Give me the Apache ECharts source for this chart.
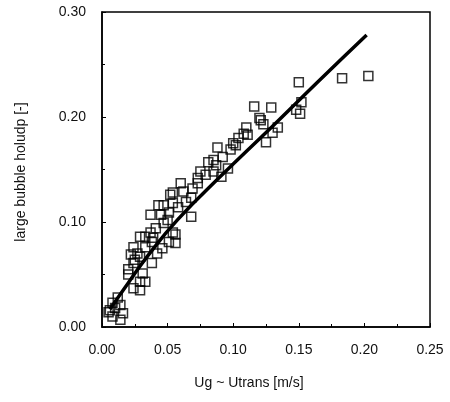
<!DOCTYPE html>
<html>
<head>
<meta charset="utf-8">
<script src="https://cdn.jsdelivr.net/npm/echarts@6/dist/echarts.min.js"></script>
<style>html,body{margin:0;padding:0;background:#fff;}#c{width:450px;height:402px;}</style>
</head>
<body>
<div id="c"></div>
<script>
// measured data: [Ug - Utrans (m/s), large bubble holdup (-)]
const measured = [
  [0.203,0.239],[0.183,0.237],[0.150,0.233],[0.152,0.214],[0.148,0.207],[0.151,0.203],
  [0.129,0.209],[0.116,0.210],[0.134,0.190],[0.130,0.185],[0.125,0.176],[0.121,0.197],
  [0.120,0.199],[0.123,0.193],[0.111,0.183],[0.108,0.184],[0.102,0.173],[0.100,0.175],
  [0.088,0.171],[0.098,0.169],[0.092,0.162],[0.085,0.159],[0.081,0.157],[0.096,0.151],
  [0.075,0.148],[0.085,0.148],[0.091,0.143],[0.073,0.142],[0.060,0.137],[0.073,0.137],
  [0.054,0.128],[0.062,0.129],[0.052,0.126],[0.068,0.123],[0.064,0.119],[0.047,0.116],
  [0.043,0.116],[0.054,0.118],[0.045,0.107],[0.037,0.107],[0.068,0.105],[0.050,0.102],
  [0.047,0.099],[0.054,0.090],[0.056,0.088],[0.033,0.086],[0.039,0.085],[0.029,0.086],
  [0.038,0.081],[0.051,0.081],[0.056,0.080],[0.024,0.076],[0.033,0.076],[0.046,0.075],
  [0.022,0.069],[0.027,0.070],[0.042,0.070],[0.029,0.067],[0.024,0.061],[0.038,0.061],
  [0.020,0.055],[0.031,0.051],[0.033,0.043],[0.029,0.043],[0.024,0.037],[0.029,0.035],
  [0.008,0.023],[0.014,0.021],[0.006,0.016],[0.016,0.013],[0.014,0.007],[0.010,0.018],
  [0.008,0.010],[0.079,0.145],[0.087,0.154],[0.104,0.180],[0.110,0.190],[0.069,0.132],
  [0.058,0.114],[0.051,0.109],[0.041,0.094],[0.037,0.090],[0.025,0.064],[0.020,0.050],
  [0.012,0.028],[0.005,0.014]
];
// correlation line
const correlation = [
  [0.006,0.017],[0.020,0.042],[0.035,0.068],[0.0575,0.102],[0.090,0.143],
  [0.129,0.190],[0.165,0.234],[0.2017,0.278]
];
const xTicks = ['0.00','0.05','0.10','0.15','0.20','0.25'];
const yTicks = ['0.00','0.10','0.20','0.30'];
const xTitle = 'Ug ~ Utrans [m/s]';
const yTitle = 'large bubble holudp [-]';

const font = 'Liberation Sans, Arial, sans-serif';
const chart = echarts.init(document.getElementById('c'), null, {renderer:'canvas'});
chart.setOption({
  animation:false,
  backgroundColor:'#fff',
  grid:{left:102,right:20,top:12,bottom:75,show:true,borderColor:'#000',borderWidth:1.5,backgroundColor:'transparent'},
  xAxis:{type:'value',min:0,max:0.25,interval:0.05,
    axisLine:{show:true,lineStyle:{color:'#000',width:1.5}},
    axisTick:{show:true,inside:true,length:4,lineStyle:{color:'#000'}},
    minorTick:{show:true,splitNumber:2,length:3,lineStyle:{color:'#000'}},
    splitLine:{show:false},
    axisLabel:{margin:16,fontFamily:font,fontSize:14,color:'#111',
      formatter:(v)=>xTicks[Math.round(v/0.05)]}},
  yAxis:{type:'value',min:0,max:0.30,interval:0.10,
    axisLine:{show:true,lineStyle:{color:'#000',width:1.5}},
    axisTick:{show:true,inside:true,length:4,lineStyle:{color:'#000'}},
    minorTick:{show:true,splitNumber:2,length:3,lineStyle:{color:'#000'}},
    splitLine:{show:false},
    axisLabel:{margin:16,fontFamily:font,fontSize:14,color:'#111',
      formatter:(v)=>yTicks[Math.round(v/0.1)]}},
  graphic:[
    {type:'text',x:249,y:383,
     style:{text:xTitle,font:'14px '+font,fill:'#111',align:'center',verticalAlign:'middle'}},
    {type:'text',x:21,y:172,rotation:Math.PI/2,
     style:{text:yTitle,font:'14px '+font,fill:'#111',align:'center',verticalAlign:'middle'}}
  ],
  series:[
    {type:'scatter',data:measured,symbol:'rect',symbolSize:9,
     itemStyle:{color:'rgba(255,255,255,0)',borderColor:'#000',borderWidth:1.5},z:2},
    {type:'line',data:correlation,smooth:true,showSymbol:false,
     lineStyle:{color:'#000',width:3.5},z:3}
  ]
});
</script>
</body>
</html>
